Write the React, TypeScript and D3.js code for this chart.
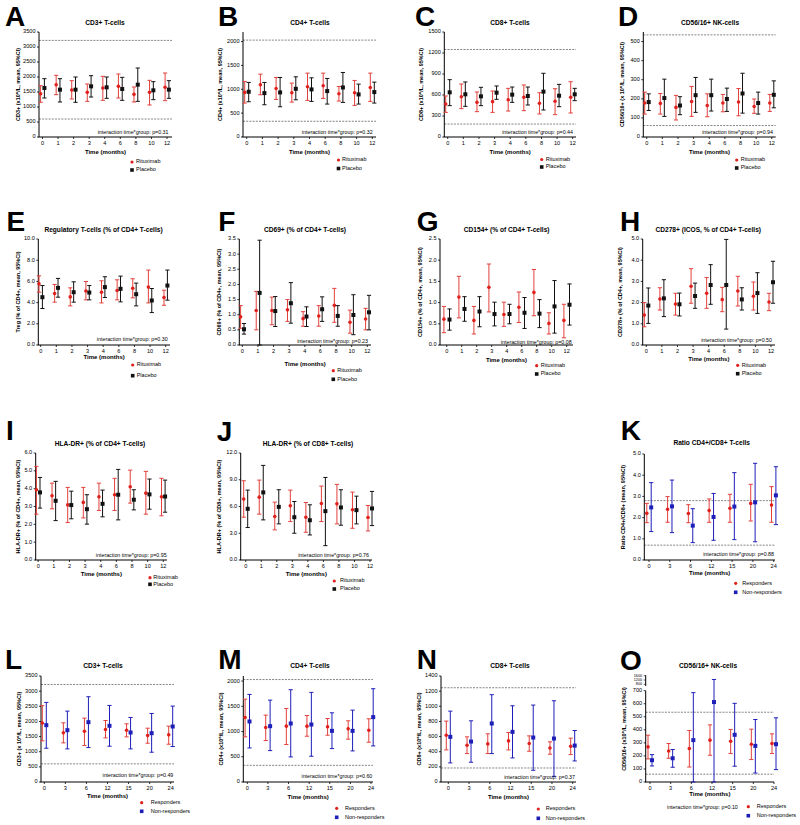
import React from "react";
import * as d3 from "d3";

const monthsRCT = ["0", "1", "2", "3", "4", "6", "8", "10", "12"];
const monthsCohort = ["0", "3", "6", "12", "15", "20", "24"];
const legendRCT = ["Rituximab", "Placebo"];
const legendCohort = ["Responders", "Non-responders"];

// each entry: [mean, lower 95%CI, upper 95%CI]
const cd3Rituximab = [[1444,1156,1711],[1744,1411,2056],[1567,1267,1878],[1489,1189,1767],[1633,1222,2022],[1689,1300,2100],[1422,1167,1667],[1489,1067,1889],[1656,1211,2133]];
const cd3Placebo = [[1633,1300,1944],[1578,1167,1944],[1578,1156,2000],[1689,1333,2044],[1656,1289,2000],[1600,1222,1989],[1744,1189,2300],[1556,1244,1844],[1578,1289,1878]];
const cd4Rituximab = [[934,711,1164],[1094,885,1317],[1017,787,1247],[927,732,1129],[1052,767,1338],[1073,808,1338],[906,753,1059],[927,662,1185],[1038,746,1338]];
const cd4Placebo = [[948,739,1143],[920,676,1143],[934,634,1247],[1010,780,1261],[997,746,1240],[962,690,1227],[1038,725,1352],[892,690,1108],[941,711,1150]];
const cd8Rituximab = [[471,352,586],[576,405,757],[495,362,643],[505,352,657],[533,371,695],[567,376,743],[481,329,633],[510,319,690],[567,343,790]];
const cd8Placebo = [[638,448,819],[610,438,786],[581,448,710],[633,538,729],[605,495,714],[586,457,714],[648,386,910],[590,433,752],[610,519,695]];
const nkRituximab = [[178,120,235],[176,120,228],[155,89,218],[186,108,265],[165,106,226],[178,132,223],[183,111,254],[160,124,199],[178,134,223]];
const nkPlacebo = [[183,139,226],[204,108,303],[165,117,211],[219,129,312],[219,136,303],[199,134,256],[228,125,334],[178,120,235],[221,153,294]];
const tregRituximab = [[5.77,4.98,6.53],[4.86,4.04,5.71],[4.54,3.69,5.39],[5.10,4.26,5.99],[4.98,3.97,6.06],[5.14,4.26,6.15],[5.36,4.45,6.25],[5.46,3.97,7.07],[4.48,3.75,5.17]];
const tregPlacebo = [[4.51,3.44,5.61],[5.39,4.51,6.28],[4.98,4.04,5.96],[4.95,4.26,5.61],[5.46,4.48,6.44],[5.30,4.07,6.50],[4.79,3.69,5.84],[4.20,3.06,5.33],[5.61,4.23,7.07]];
const cd69Rituximab = [[0.93,0.55,1.30],[1.14,0.50,1.77],[1.14,0.67,1.58],[1.16,0.78,1.50],[0.87,0.62,1.10],[0.96,0.62,1.30],[1.31,0.75,1.87],[0.75,0.39,1.15],[0.86,0.50,1.21]];
const cd69Placebo = [[0.52,0.36,0.71],[1.72,0.0,3.46],[1.12,0.61,1.60],[1.38,0.72,2.06],[0.94,0.61,1.26],[1.18,0.78,1.59],[0.96,0.62,1.30],[0.99,0.34,1.66],[1.08,0.50,1.64]];
const cd154Rituximab = [[0.61,0.29,0.91],[1.13,0.64,1.62],[0.58,0.26,0.91],[1.36,0.78,1.91],[0.72,0.44,1.01],[0.89,0.53,1.25],[1.24,0.69,1.78],[0.51,0.26,0.76],[0.58,0.17,0.96]];
const cd154Placebo = [[0.60,0.35,0.85],[0.85,0.56,1.14],[0.79,0.43,1.14],[0.73,0.45,1.01],[0.73,0.50,0.96],[0.76,0.39,1.12],[0.74,0.41,1.07],[0.91,0.28,1.52],[0.95,0.47,1.44]];
const icosRituximab = [[1.41,0.86,2.00],[2.17,1.65,2.70],[1.93,1.41,2.44],[2.77,1.97,3.60],[2.44,1.73,3.18],[2.14,1.57,2.72],[2.55,1.84,3.24],[2.30,1.65,2.97],[2.03,1.62,2.44]];
const icosPlacebo = [[1.86,1.02,2.69],[2.20,1.34,3.08],[1.92,1.37,2.45],[2.31,1.73,2.92],[2.83,1.92,3.79],[2.83,0.75,4.98],[2.15,1.65,2.70],[2.45,1.49,3.41],[2.96,1.97,3.95]];
const hla4Rituximab = [[3.94,2.57,5.25],[3.60,2.87,4.31],[3.09,2.10,4.07],[3.23,2.36,4.07],[3.54,2.78,4.31],[3.66,2.78,4.58],[4.11,3.19,5.04],[3.75,2.57,4.97],[3.54,2.48,4.58]];
const hla4Placebo = [[3.79,2.91,4.63],[3.32,2.21,4.41],[3.08,2.31,3.86],[2.85,2.01,3.66],[3.15,2.42,3.92],[3.66,2.25,5.08],[3.38,2.81,3.94],[3.68,2.85,4.54],[3.56,2.68,4.48]];
const hla8Rituximab = [[6.83,4.80,8.89],[7.05,5.14,8.96],[4.88,3.38,6.49],[6.08,4.31,7.84],[4.80,3.11,6.45],[6.34,4.31,8.29],[6.30,4.05,8.48],[5.63,3.56,7.61],[4.76,3.26,6.11]];
const hla8Placebo = [[5.74,3.64,7.84],[7.58,4.50,10.61],[5.96,4.05,7.88],[4.80,3.00,6.56],[4.46,2.81,6.19],[5.48,1.61,9.26],[5.89,3.90,7.88],[5.59,4.05,7.16],[5.78,3.86,7.69]];
const ratioResponders = [[2.20,1.76,2.67],[2.39,1.78,2.99],[2.19,1.76,2.61],[2.33,1.78,2.88],[2.44,1.78,3.10],[2.67,1.84,3.57],[2.59,1.78,3.46]];
const ratioNonResponders = [[2.48,1.34,3.65],[2.53,1.29,3.77],[1.62,0.82,2.42],[2.03,0.93,3.14],[2.52,0.96,4.12],[2.72,0.86,4.56],[3.05,1.67,4.40]];
const cd3Responders = [[1950,1360,2520],[1623,1292,1954],[1678,1203,2109],[1733,1457,2031],[1711,1490,1921],[1535,1281,1777],[1557,1248,1844]];
const cd3NonResponders = [[1877,1115,2628],[1711,1093,2340],[1976,1137,2815],[1855,1181,2528],[1634,1093,2131],[1612,983,2263],[1833,1170,2506]];
const cd4Responders = [[1278,894,1642],[1079,821,1325],[1106,742,1457],[1106,907,1318],[1093,927,1258],[1053,848,1212],[1026,788,1252]];
const cd4NonResponders = [[1199,675,1735],[1106,622,1622],[1159,497,1828],[1139,510,1775],[1013,662,1371],[1013,616,1424],[1285,715,1848]];
const cd8Responders = [[618,424,804],[486,375,596],[503,375,636],[543,424,654],[508,406,609],[450,367,530],[473,362,579]];
const cd8NonResponders = [[596,252,936],[534,261,808],[773,375,1153],[662,318,1007],[587,155,1016],[574,75,1073],[481,278,680]];
const nkResponders = [[269,177,359],[238,182,295],[256,115,395],[321,205,438],[313,218,403],[290,172,405],[295,218,369]];
const nkNonResponders = [[167,123,210],[182,113,249],[321,0,685],[613,0,1250],[362,121,603],[277,69,479],[290,95,492]];

// y tick values
const ticksCD3 = [0, 500, 1000, 1500, 2000, 2500, 3000, 3500];
const ticksCD4 = [0, 500, 1000, 1500, 2000];
const ticksCD8a = [0, 300, 600, 900, 1200, 1500];
const ticksNK = [0, 100, 200, 300, 400, 500];
const ticksTreg = [0, 2, 4, 6, 8, 10];
const ticksCD69 = [0, 0.5, 1, 1.5, 2, 2.5, 3, 3.5];
const ticksCD154 = [0, 0.5, 1, 1.5, 2, 2.5];
const ticks5 = [0, 1, 2, 3, 4, 5];
const ticks6 = [0, 1, 2, 3, 4, 5, 6];
const ticks12 = [0, 3, 6, 9, 12];
const ticksCD8b = [0, 200, 400, 600, 800, 1000, 1200, 1400];
const ticksNKLow = [0, 100, 200, 300, 400, 500, 600, 700];
const ticksNKHigh = [800, 1200, 1600];

const RED = "#e0201c";
const RED_BAR = "#e2403c";
const BLACK = "#111";
const BLUE = "#1e1eb8";
const FONT = "'Liberation Sans', Arial, Helvetica, sans-serif";

interface Cfg {
  letter: string; lx: number; ly: number;
  title: string; tx: number; ty: number;
  ylabel: string; ylx: number;
  ax: number; right: number; first: number; last: number;
  yBot: number; yTop: number; dMax: number;
  ticks: number[]; dec: number; refs: number[];
  cats: string[]; s1: number[][]; s2: number[][]; c2: string;
  names: string[]; off: number;
  mx: number; mtx: number; my1: number; my2: number;
  p: string; ix: number; iy: number; ianchor?: string;
  xly: number; broken?: boolean;
}

const panels: Cfg[] = [
  { letter: "A", lx: 5, ly: 26, title: "CD3+ T-cells", tx: 105, ty: 25, ylabel: "CD3+ (x10⁶/L, mean, 95%CI)", ylx: 20,
    ax: 39, right: 172, first: 42.5, last: 167, yBot: 137, yTop: 32, dMax: 3500, ticks: ticksCD3, dec: 0, refs: [3220, 600],
    cats: monthsRCT, s1: cd3Rituximab, s2: cd3Placebo, c2: BLACK, names: legendRCT, off: 1.9,
    mx: 132, mtx: 136, my1: 162, my2: 170, p: "0.31", ix: 168.5, iy: 133.5, xly: 154 },
  { letter: "B", lx: 218, ly: 26, title: "CD4+ T-cells", tx: 310, ty: 25, ylabel: "CD4+ (x10⁶/L, mean, 95%CI)", ylx: 22,
    ax: 243, right: 376, first: 246.7, last: 372.3, yBot: 137, yTop: 32, dMax: 2200, ticks: ticksCD4, dec: 0, refs: [2030, 330],
    cats: monthsRCT, s1: cd4Rituximab, s2: cd4Placebo, c2: BLACK, names: legendRCT, off: 2,
    mx: 338.5, mtx: 342, my1: 160, my2: 168.5, p: "0.32", ix: 372.7, iy: 133.5, xly: 154 },
  { letter: "C", lx: 415, ly: 26, title: "CD8+ T-cells", tx: 510, ty: 25, ylabel: "CD8+ (x10⁶/L, mean, 95%CI)", ylx: 23,
    ax: 444.3, right: 576, first: 447.7, last: 572.7, yBot: 137, yTop: 32, dMax: 1500, ticks: ticksCD8a, dec: 0, refs: [1250, 185],
    cats: monthsRCT, s1: cd8Rituximab, s2: cd8Placebo, c2: BLACK, names: legendRCT, off: 2,
    mx: 541.7, mtx: 545.7, my1: 159.5, my2: 167, p: "0.44", ix: 573, iy: 133.5, xly: 154 },
  { letter: "D", lx: 618, ly: 26, title: "CD56/16+ NK-cells", tx: 710, ty: 25, ylabel: "CD56/16+ (x 10⁶/L, mean, 95%CI)", ylx: 21,
    ax: 643.3, right: 775.7, first: 646.7, last: 771.8, yBot: 137, yTop: 32, dMax: 550, ticks: ticksNK, dec: 0, refs: [535, 60],
    cats: monthsRCT, s1: nkRituximab, s2: nkPlacebo, c2: BLACK, names: legendRCT, off: 2,
    mx: 736.7, mtx: 740.7, my1: 160, my2: 168, p: "0.94", ix: 773, iy: 133.5, xly: 154 },

  { letter: "E", lx: 6.5, ly: 231, title: "Regulatory T-cells (% of CD4+ T-cells)", tx: 103.5, ty: 232, ylabel: "Treg (% of CD4+, mean, 95%CI)", ylx: 20,
    ax: 38.3, right: 170, first: 40.7, last: 165.7, yBot: 345, yTop: 239, dMax: 10, ticks: ticksTreg, dec: 1, refs: [],
    cats: monthsRCT, s1: tregRituximab, s2: tregPlacebo, c2: BLACK, names: legendRCT, off: 1.7,
    mx: 132.7, mtx: 136.7, my1: 365, my2: 375.7, p: "0.30", ix: 167.7, iy: 341, xly: 359 },
  { letter: "F", lx: 218.3, ly: 231, title: "CD69+ (% of CD4+ T-cells)", tx: 305, ty: 232, ylabel: "CD69+ (% of CD4+, mean, 95%CI)", ylx: 20,
    ax: 239.3, right: 371, first: 242.3, last: 367.3, yBot: 345, yTop: 239, dMax: 3.5, ticks: ticksCD69, dec: 1, refs: [],
    cats: monthsRCT, s1: cd69Rituximab, s2: cd69Placebo, c2: BLACK, names: legendRCT, off: 1.7,
    mx: 333.3, mtx: 337.3, my1: 370.7, my2: 379.3, p: "0.23", ix: 368, iy: 342.5, xly: 366 },
  { letter: "G", lx: 416.7, ly: 231, title: "CD154+ (% of CD4+ T-cells)", tx: 506.7, ty: 232, ylabel: "CD154+ (% of CD4+, mean, 95%CI)", ylx: 19.5,
    ax: 440, right: 573, first: 446.7, last: 566.7, yBot: 345, yTop: 239, dMax: 2.5, ticks: ticksCD154, dec: 1, refs: [],
    cats: monthsRCT, s1: cd154Rituximab, s2: cd154Placebo, c2: BLACK, names: legendRCT, off: 2.8,
    mx: 536.7, mtx: 540.7, my1: 365.7, my2: 374, p: "0.08", ix: 571.7, iy: 343.5, xly: 362 },
  { letter: "H", lx: 620, ly: 231, title: "CD278+ (ICOS, % of CD4+ T-cells)", tx: 708.3, ty: 232, ylabel: "CD278+ (% of CD4+, mean, 95%CI)", ylx: 22,
    ax: 642.7, right: 775, first: 646.3, last: 771, yBot: 345, yTop: 239, dMax: 5, ticks: ticks5, dec: 1, refs: [],
    cats: monthsRCT, s1: icosRituximab, s2: icosPlacebo, c2: BLACK, names: legendRCT, off: 2,
    mx: 737.7, mtx: 741.7, my1: 365.3, my2: 373.7, p: "0.50", ix: 772, iy: 342, xly: 361 },

  { letter: "I", lx: 6, ly: 440, title: "HLA-DR+ (% of CD4+ T-cells)", tx: 100, ty: 446, ylabel: "HLA-DR+ (% of CD4+, mean, 95%CI)", ylx: 17.5,
    ax: 35.7, right: 167, first: 38.2, last: 163.3, yBot: 560, yTop: 453, dMax: 6, ticks: ticks6, dec: 1, refs: [],
    cats: monthsRCT, s1: hla4Rituximab, s2: hla4Placebo, c2: BLACK, names: legendRCT, off: 1.8,
    mx: 150, mtx: 153.3, my1: 577.7, my2: 584.3, p: "0.95", ix: 166.7, iy: 557, xly: 576 },
  { letter: "J", lx: 216.7, ly: 441, title: "HLA-DR+ (% of CD8+ T-cells)", tx: 308, ty: 446, ylabel: "HLA-DR+ (% of CD8+, mean, 95%CI)", ylx: 20.7,
    ax: 240.7, right: 372, first: 245.7, last: 370, yBot: 560, yTop: 453, dMax: 12, ticks: ticks12, dec: 1, refs: [],
    cats: monthsRCT, s1: hla8Rituximab, s2: hla8Placebo, c2: BLACK, names: legendRCT, off: 2,
    mx: 334.3, mtx: 340, my1: 581, my2: 589, p: "0.76", ix: 369, iy: 557, xly: 576 },
  { letter: "K", lx: 620.7, ly: 440, title: "Ratio CD4+/CD8+ T-cells", tx: 711.7, ty: 445, ylabel: "Ratio CD4+/CD8+ (mean, 95%CI)", ylx: 21,
    ax: 644.3, right: 775, first: 649, last: 773.7, yBot: 560, yTop: 454, dMax: 5, ticks: ticks5, dec: 1, refs: [2.8, 0.7],
    cats: monthsCohort, s1: ratioResponders, s2: ratioNonResponders, c2: BLUE, names: legendCohort, off: 2.2,
    mx: 735.7, mtx: 742.3, my1: 583.3, my2: 592.3, p: "0.88", ix: 774, iy: 556, xly: 575 },

  { letter: "L", lx: 5, ly: 669, title: "CD3+ T-cells", tx: 103, ty: 668, ylabel: "CD3+ (x 10⁶/L, mean, 95%CI)", ylx: 21,
    ax: 41, right: 174, first: 44.3, last: 170.7, yBot: 782, yTop: 676, dMax: 3500, ticks: ticksCD3, dec: 0, refs: [3220, 600],
    cats: monthsCohort, s1: cd3Responders, s2: cd3NonResponders, c2: BLUE, names: legendCohort, off: 2,
    mx: 141.7, mtx: 150.7, my1: 802.7, my2: 811.3, p: "0.49", ix: 173.3, iy: 777, xly: 798 },
  { letter: "M", lx: 218.3, ly: 669, title: "CD4+ T-cells", tx: 310, ty: 668, ylabel: "CD4+ (x10⁶/L, mean, 95%CI)", ylx: 21.6,
    ax: 243.3, right: 373, first: 247.3, last: 371, yBot: 782, yTop: 676, dMax: 2100, ticks: ticksCD4, dec: 0, refs: [2030, 330],
    cats: monthsCohort, s1: cd4Responders, s2: cd4NonResponders, c2: BLUE, names: legendCohort, off: 2.2,
    mx: 336.7, mtx: 345, my1: 808.3, my2: 817.3, p: "0.60", ix: 372.3, iy: 778, xly: 799 },
  { letter: "N", lx: 416.7, ly: 669, title: "CD8+ T-cells", tx: 510, ty: 668, ylabel: "CD8+ (x10⁶/L, mean, 95%CI)", ylx: 21,
    ax: 441, right: 576, first: 448.3, last: 572.7, yBot: 782, yTop: 676, dMax: 1400, ticks: ticksCD8b, dec: 0, refs: [1245, 185],
    cats: monthsCohort, s1: cd8Responders, s2: cd8NonResponders, c2: BLUE, names: legendCohort, off: 2,
    mx: 538.3, mtx: 545.7, my1: 809, my2: 818.3, p: "0.37", ix: 575, iy: 778.5, xly: 799 },
  { letter: "O", lx: 620, ly: 670, title: "CD56/16+  NK-cells", tx: 708, ty: 668, ylabel: "CD56/16+ (x10⁶/L, mean, 95%CI)", ylx: 20.7,
    ax: 645.7, right: 774, first: 650, last: 774, yBot: 782, yTop: 690.7, dMax: 700, ticks: ticksNKLow, dec: 0, refs: [535, 60],
    cats: monthsCohort, s1: nkResponders, s2: nkNonResponders, c2: BLUE, names: legendCohort, off: 2,
    mx: 748.3, mtx: 756.7, my1: 806.7, my2: 815.7, p: "0.10", ix: 667, iy: 808.5, ianchor: "start", xly: 796, broken: true },
];

function Panel({ c }: { c: Cfg }) {
  const x = d3.scalePoint<string>().domain(c.cats).range([c.first, c.last]);
  const low = d3.scaleLinear().domain([0, c.dMax]).range([c.yBot, c.yTop]);
  const high = d3.scaleLinear().domain([800, 1600]).range([684.3, 675.7]);
  const y = (v: number) => (c.broken && v > 700 ? high(v) : low(v));
  const fmt = d3.format(c.dec ? ".1f" : "d");
  const tickFs = 5.6;
  const capW = 2.1;
  const axisTop = c.broken ? 690.7 : c.yTop;
  const midY = c.broken ? (c.yBot + 676) / 2 : (c.yBot + c.yTop) / 2;

  const drawSeries = (data: number[][], dx: number, color: string, barColor: string, square: boolean) =>
    data.map((d, i) => {
      const cx = (x(c.cats[i]) as number) + dx;
      const [m, lo, hi] = d;
      return (
        <g key={i}>
          <line x1={cx} x2={cx} y1={y(hi)} y2={y(lo)} stroke={barColor} strokeWidth={1} />
          <line x1={cx - capW} x2={cx + capW} y1={y(hi)} y2={y(hi)} stroke={barColor} strokeWidth={1} />
          <line x1={cx - capW} x2={cx + capW} y1={y(lo)} y2={y(lo)} stroke={barColor} strokeWidth={1} />
          {square ? (
            <rect x={cx - 2} y={y(m) - 2} width={4} height={4} fill={color} />
          ) : (
            <circle cx={cx} cy={y(m)} r={1.8} fill={color} />
          )}
        </g>
      );
    });

  return (
    <g fontFamily={FONT}>
      <text x={c.lx} y={c.ly} fontSize={28} fontWeight="bold" fill="#000">{c.letter}</text>
      <text x={c.tx} y={c.ty} fontSize={6.6} fontWeight="bold" textAnchor="middle" fill="#000">{c.title}</text>
      <text transform={`translate(${c.ax - c.ylx},${midY}) rotate(-90)`} fontSize={5.5} fontWeight="bold" textAnchor="middle" dominantBaseline="middle" fill="#000">{c.ylabel}</text>
      {c.refs.map((r, i) => (
        <line key={i} x1={c.ax} x2={c.right} y1={y(r)} y2={y(r)} stroke="#777" strokeWidth={0.9} strokeDasharray="2,1.2" />
      ))}
      <line x1={c.ax} x2={c.ax} y1={c.yBot} y2={axisTop} stroke="#000" strokeWidth={1} />
      {c.broken && <line x1={c.ax} x2={c.ax} y1={686} y2={675.2} stroke="#000" strokeWidth={1} />}
      {c.ticks.map((t) => (
        <g key={t}>
          <line x1={c.ax - 2} x2={c.ax} y1={y(t)} y2={y(t)} stroke="#000" strokeWidth={0.8} />
          <text x={c.ax - 3.5} y={y(t)} fontSize={tickFs} textAnchor="end" dominantBaseline="middle" fill="#000">{fmt(t)}</text>
        </g>
      ))}
      {c.broken && ticksNKHigh.map((t) => (
        <g key={"h" + t}>
          <line x1={c.ax - 2} x2={c.ax} y1={high(t)} y2={high(t)} stroke="#000" strokeWidth={0.6} />
          <text x={c.ax - 3.5} y={high(t)} fontSize={3.8} textAnchor="end" dominantBaseline="middle" fill="#000">{t}</text>
        </g>
      ))}
      <line x1={c.ax - 0.5} x2={c.right} y1={c.yBot} y2={c.yBot} stroke="#000" strokeWidth={1} />
      {c.cats.map((k) => (
        <g key={k}>
          <line x1={x(k) as number} x2={x(k) as number} y1={c.yBot} y2={c.yBot + 2} stroke="#000" strokeWidth={0.8} />
          <text x={x(k) as number} y={c.yBot + 8.3} fontSize={tickFs} textAnchor="middle" fill="#000">{k}</text>
        </g>
      ))}
      <text x={(c.ax + c.right) / 2} y={c.xly} fontSize={6} fontWeight="bold" textAnchor="middle" fill="#000">Time (months)</text>
      {drawSeries(c.s1, -c.off, RED, RED_BAR, false)}
      {drawSeries(c.s2, c.off, c.c2, c.c2, true)}
      <text x={c.ix} y={c.iy} fontSize={5.3} textAnchor={c.ianchor || "end"} fill="#000">{`interaction time*group: p=${c.p}`}</text>
      <circle cx={c.mx} cy={c.my1} r={1.6} fill={RED} />
      <text x={c.mtx} y={c.my1} fontSize={5.5} dominantBaseline="middle" fill="#000">{c.names[0]}</text>
      <rect x={c.mx - 1.8} y={c.my2 - 1.8} width={3.6} height={3.6} fill={c.c2} />
      <text x={c.mtx} y={c.my2} fontSize={5.5} dominantBaseline="middle" fill="#000">{c.names[1]}</text>
    </g>
  );
}

export default function App() {
  return (
    <svg width={800} height={825} viewBox="0 0 800 825" style={{ position: "absolute", left: 0, top: 0, background: "#fff" }}>
      <rect width={800} height={825} fill="#fff" />
      {panels.map((c) => (
        <Panel key={c.letter} c={c} />
      ))}
    </svg>
  );
}
